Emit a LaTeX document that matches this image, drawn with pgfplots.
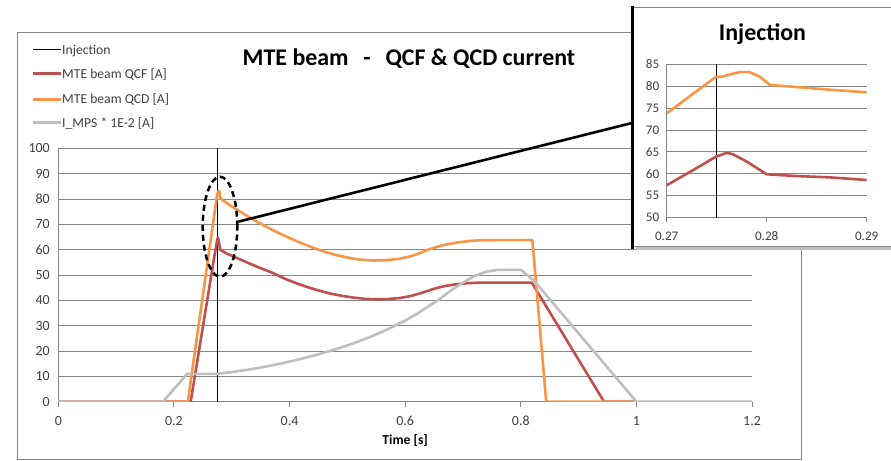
\documentclass[border=0pt]{standalone}
\usepackage{fontspec}
\setmainfont{Carlito}
\usepackage{pgfplots}
\pgfplotsset{compat=1.18}
\definecolor{qcf}{RGB}{192,80,77}
\definecolor{qcd}{RGB}{247,150,70}
\definecolor{mps}{RGB}{191,191,191}
\definecolor{gridc}{RGB}{134,134,134}
\definecolor{tickc}{RGB}{64,64,64}

\begin{document}
\begin{tikzpicture}[x=1bp,y=1bp]
\useasboundingbox (0,0) rectangle (891,461);
\fill[white] (0,0) rectangle (891,461);
\draw[gridc, line width=1bp] (17,1) rectangle (801,428);

\begin{axis}[
 at={(58.3bp,59.3bp)}, anchor=south west,
 scale only axis, width=693.7bp, height=253.4bp,
 xmin=0, xmax=1.2, ymin=0, ymax=100,
 axis x line=bottom, axis y line=left,
 axis line style={gridc, line width=0.9bp, -},
 xtick={0,0.2,0.4,0.6,0.8,1,1.2},
 xticklabels={0,0.2,0.4,0.6,0.8,1,1.2},
 ytick={0,10,20,30,40,50,60,70,80,90,100},
 ymajorgrids, grid style={gridc, line width=0.9bp},
 tick align=outside, major tick length=5bp,
 xtick style={gridc, line width=0.9bp},
 ytick style={draw=none},
 tick label style={font=\fontsize{14}{16}\selectfont, text=tickc},
 /pgf/number format/assume math mode=true,
 xticklabel style={anchor=base, yshift=-19bp},
 yticklabel style={anchor=east},
 xlabel={Time [s]},
 xlabel style={font=\fontsize{13.7}{16}\selectfont\bfseries, text=black, at={(axis description cs:0.5,-0.155)}, anchor=center},
 line join=round,
]
\addplot[black, line width=0.8bp] coordinates {(0.275,0) (0.275,100)};
\addplot[qcf, line width=2.6bp] coordinates {
(0,0) (0.229,0) (0.270,57.4) (0.2729,61.2) (0.2749,63.9) (0.2760,64.8) (0.2766,64.5)
(0.2780,62.8) (0.2800,59.9) (0.283,59.5) (0.2863,59.2) (0.29,58.6) (0.31,56.6)
(0.33,54.6) (0.35,52.7) (0.37,50.9) (0.39,48.7) (0.41,46.9) (0.43,45.3)
(0.45,43.9) (0.47,42.7) (0.49,41.8) (0.51,41.1) (0.53,40.6) (0.55,40.4)
(0.57,40.5) (0.59,40.9) (0.61,41.7) (0.625,42.7) (0.64,43.8) (0.655,44.9)
(0.67,45.7) (0.69,46.4) (0.71,46.8) (0.73,47.0) (0.819,47.0) (0.944,0) (1.0,0)};
\addplot[qcd, line width=2.6bp] coordinates {
(0,0) (0.224,0) (0.270,74) (0.275,82.1) (0.2756,82.2) (0.2773,83.2) (0.2783,83.2)
(0.2793,82.2) (0.2803,80.3) (0.283,79.8) (0.2863,79.2) (0.29,78.6) (0.30,77.1)
(0.32,74.2) (0.34,71.5) (0.36,69.0) (0.38,66.7) (0.40,64.6) (0.42,62.6)
(0.44,60.8) (0.46,59.2) (0.48,57.9) (0.50,56.9) (0.52,56.1) (0.545,55.7)
(0.57,55.9) (0.59,56.4) (0.61,57.4) (0.625,58.6) (0.64,60.0) (0.655,61.1)
(0.67,62.0) (0.69,62.8) (0.71,63.4) (0.73,63.7) (0.82,63.8) (0.844,0) (1.0,0)};
\addplot[mps, line width=2.6bp] coordinates {
(0,0) (0.181,0) (0.223,11) (0.275,11) (0.30,11.7) (0.33,12.7) (0.36,13.9)
(0.39,15.3) (0.42,16.9) (0.45,18.7) (0.48,20.7) (0.51,23.0) (0.54,25.6)
(0.57,28.6) (0.60,32.0) (0.62,34.6) (0.64,37.6) (0.66,40.6) (0.68,44.0)
(0.70,47.0) (0.72,49.6) (0.74,51.3) (0.76,52.0) (0.80,52.0) (0.822,48.0)
(1.0,0) (1.2,0)};
\end{axis}

% annotations
\draw[black, line width=2.5bp, dash pattern=on 6bp off 4bp] (220,234.3) ellipse [x radius=17.3, y radius=50];
\draw[black, line width=2.6bp] (238.3,239.3) -- (632,338);

% inset box
\fill[black!25] (636,211) rectangle (895,450);
\fill[white] (632,215) rectangle (895,454);
\draw[gridc, line width=0.8bp] (632,215) rectangle (895,454);
\draw[black, line width=3bp] (632,212) -- (632,455);

\node[anchor=base, font=\fontsize{24}{28}\selectfont\bfseries] at (762.5,420.3) {Injection};

\begin{axis}[
 at={(666.7bp,243.3bp)}, anchor=south west,
 scale only axis, width=200bp, height=153.4bp,
 xmin=0.27, xmax=0.29, ymin=50, ymax=85,
 axis x line=bottom, axis y line=left,
 axis line style={gridc, line width=0.9bp, -},
 xtick={0.27,0.28,0.29},
 xticklabels={0.27,0.28,0.29},
 ytick={50,55,60,65,70,75,80,85},
 ymajorgrids, grid style={gridc, line width=0.9bp},
 tick align=outside, major tick length=4bp,
 xtick style={gridc, line width=0.9bp},
 ytick style={draw=none},
 tick label style={font=\fontsize{13.2}{15}\selectfont, text=tickc},
 /pgf/number format/assume math mode=true,
 xticklabel style={anchor=base, yshift=-19bp},
 yticklabel style={anchor=east},
 line join=round, clip=true,
]
\addplot[black, line width=0.8bp] coordinates {(0.275,50) (0.275,85)};
\addplot[qcf, line width=2.6bp] coordinates {
(0.27,57.4) (0.2729,61.2) (0.2749,63.9) (0.2760,64.8) (0.2766,64.5) (0.2780,62.8)
(0.2800,59.9) (0.283,59.5) (0.2863,59.2) (0.29,58.6)};
\addplot[qcd, line width=2.6bp] coordinates {
(0.27,73.8) (0.2749,82.1) (0.2756,82.2) (0.2765,82.8) (0.2773,83.2) (0.2783,83.2)
(0.2793,82.2) (0.2803,80.3) (0.283,79.8) (0.2863,79.2) (0.29,78.6)};
\end{axis}

% title
\node[anchor=base, font=\fontsize{24}{28}\selectfont\bfseries] at (409,395.3) {MTE beam \ \,-\ \, QCF \& QCD current};

% legend
\begin{scope}[font=\fontsize{13.7}{16}\selectfont, text=tickc]
\draw[black, line width=1bp] (33.3,411) -- (61,411);
\node[anchor=base west, inner sep=0pt] at (62,406.5) {Injection};
\draw[qcf, line width=3bp] (33.3,387) -- (61,387);
\node[anchor=base west, inner sep=0pt] at (62,382.5) {MTE beam QCF [A]};
\draw[qcd, line width=3bp] (33.3,361.5) -- (61,361.5);
\node[anchor=base west, inner sep=0pt] at (62,357) {MTE beam QCD [A]};
\draw[mps, line width=3bp] (33.3,338) -- (61,338);
\node[anchor=base west, inner sep=0pt] at (62,333.5) {I\_MPS * 1E-2 [A]};
\end{scope}
\end{tikzpicture}
\end{document}
